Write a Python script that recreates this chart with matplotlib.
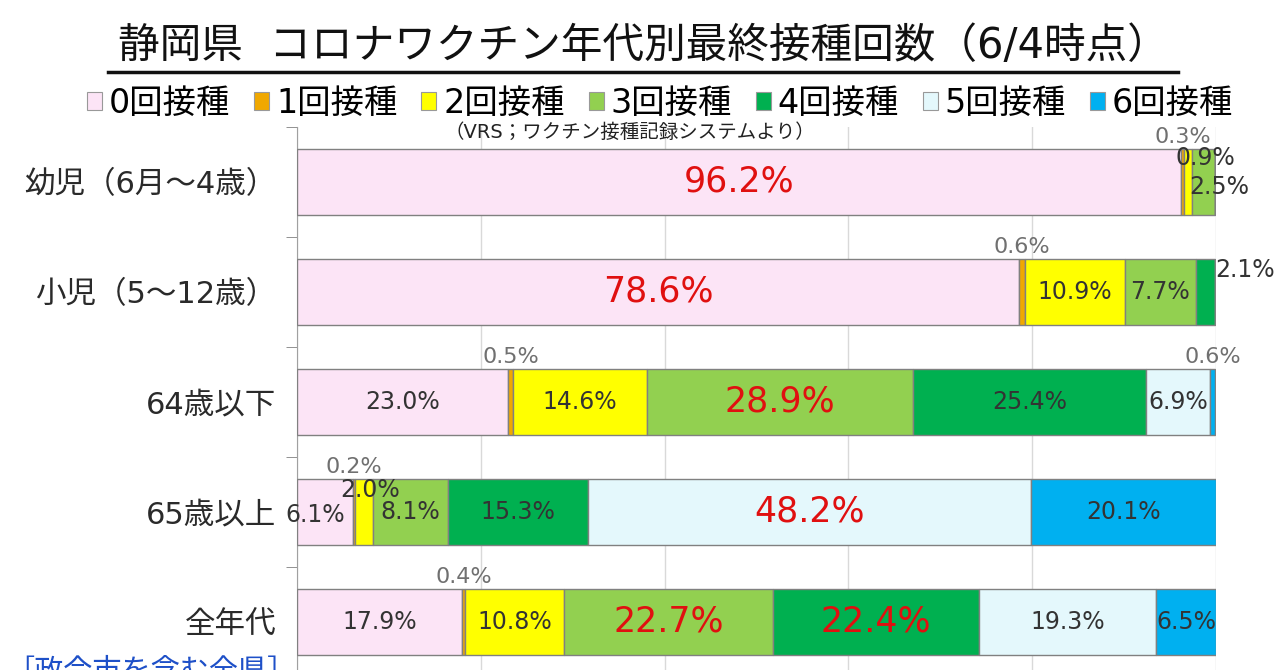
import matplotlib
matplotlib.use("Agg")
import matplotlib.pyplot as plt
from matplotlib.patches import Patch
import numpy as np

# 数字は幅広の DejaVu、和文は Noto
plt.rcParams['font.family'] = ['DejaVu Sans', 'Noto Sans CJK JP']

# データ
groups = ['幼児（6月～4歳）', '小児（5～12歳）', '64歳以下', '65歳以上', '全年代']
doses = ['0回接種', '1回接種', '2回接種', '3回接種', '4回接種', '5回接種', '6回接種']
dose0 = [96.2, 78.6, 23.0, 6.1, 17.9]
dose1 = [0.3, 0.6, 0.5, 0.2, 0.4]
dose2 = [0.9, 10.9, 14.6, 2.0, 10.8]
dose3 = [2.5, 7.7, 28.9, 8.1, 22.7]
dose4 = [0.0, 2.1, 25.4, 15.3, 22.4]
dose5 = [0.0, 0.0, 6.9, 48.2, 19.3]
dose6 = [0.0, 0.0, 0.6, 20.1, 6.5]

colors = ['#FCE4F6', '#F0A800', '#FFFF00', '#92D050', '#00B050', '#E4F8FC', '#00B0F0']

# 赤字で強調するラベル (行, 列)
red_labels = {(0, 0), (1, 0), (2, 3), (3, 5), (4, 3), (4, 4)}
# ずらして置くラベル (行, 列): (dx, dy) ピクセル
nudges = {(0, 2): (17, -24), (0, 3): (16, 5), (1, 4): (40, -22),
          (3, 2): (6, -22), (3, 0): (-10, 3)}

data = np.array([dose0, dose1, dose2, dose3, dose4, dose5, dose6])

fig = plt.figure(figsize=(12.8, 6.7), dpi=100)
ax = fig.add_axes([297 / 1280, -7 / 670, 919 / 1280, 550 / 670])

y = np.arange(len(groups))
left = np.zeros(len(groups))
for j in range(len(doses)):
    ax.barh(y, data[j], left=left, height=0.6, color=colors[j],
            edgecolor='#808080', linewidth=1.0, zorder=3)
    for i in range(len(groups)):
        v = data[j][i]
        if v <= 0:
            continue
        cx = left[i] + v / 2
        if v < 1 and (i, j) not in nudges:
            ax.annotate(f'{v:.1f}%', (cx, i - 0.3), xytext=(0, 2),
                        textcoords='offset pixels', ha='center', va='bottom',
                        fontsize=16, color='#707070', zorder=5)
            continue
        dx, dy = nudges.get((i, j), (0, 0))
        if (i, j) in red_labels:
            fs, col = 25, '#E01010'
        else:
            fs, col = 17, '#333333'
        ax.annotate(f'{v:.1f}%', (cx, i), xytext=(dx, -dy),
                    textcoords='offset pixels', ha='center', va='center',
                    fontsize=fs, color=col, zorder=5)
    left += data[j]

ax.set_xlim(0, 100)
ax.set_ylim(len(groups) - 0.5, -0.5)
ax.set_xticks([0, 20, 40, 60, 80, 100])
ax.tick_params(axis='x', length=0, labelbottom=False)
ax.grid(axis='x', color='#D9D9D9', linewidth=1, zorder=0)
ax.set_yticks(y)
ax.set_yticklabels(groups, fontsize=22, color='#2a2a2a')
ax.set_yticks(np.arange(-0.5, len(groups), 1), minor=True)
ax.tick_params(axis='y', which='major', length=0, pad=15)
ax.tick_params(axis='y', which='minor', length=8, color='#808080', direction='out')
for s in ['top', 'right', 'bottom']:
    ax.spines[s].set_visible(False)
ax.spines['left'].set_color('#A0A0A0')

# タイトル
fig.text(643 / 1280, 1 - 46 / 670, '静岡県  コロナワクチン年代別最終接種回数（6/4時点）',
         ha='center', va='center', fontsize=30, color='#111111')
fig.add_artist(plt.Line2D([108 / 1280, 1178 / 1280], [1 - 72 / 670] * 2,
                          color='#111111', linewidth=2.5))

# 凡例
handles = [Patch(facecolor=c, edgecolor='#999999', linewidth=0.8) for c in colors]
fig.legend(handles, doses, loc='center', bbox_to_anchor=(660 / 1280, 1 - 103 / 670),
           ncol=7, frameon=False, fontsize=24, handlelength=0.45, handleheight=0.45,
           handletextpad=0.2, columnspacing=0.72, borderaxespad=0)

fig.text(630 / 1280, 1 - 132 / 670, '（VRS；ワクチン接種記録システムより）',
         ha='center', va='center', fontsize=14, color='#222222')

# 下端の注記（見切れ）
fig.text(5 / 1280, 1 - 658 / 670, '［政令市を含む全県］', ha='left', va='top',
         fontsize=21, color='#1E50C8')

fig.savefig('out.png', dpi=100)
